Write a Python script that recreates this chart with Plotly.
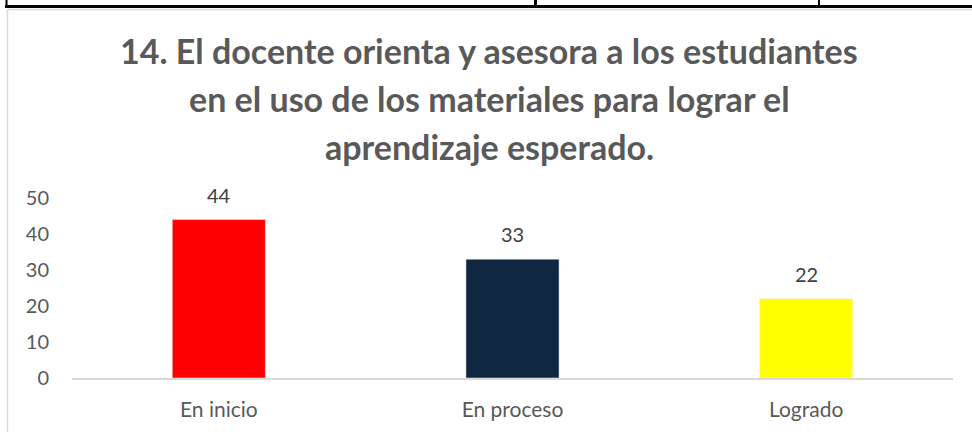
import plotly.graph_objects as go

# data
categories = ["En inicio", "En proceso", "Logrado"]
values = [44, 33, 22]
bar_colors = ["#FF0000", "#0F2741", "#FFFF00"]
title_lines = [
    "14. El docente orienta y asesora a los estudiantes",
    "en el uso de los materiales para lograr el",
    "aprendizaje esperado.",
]

W, H = 972, 432
L, R, T, B = 72, 19, 198, 54
pw, ph = W - L - R, H - T - B


def px_x(x):
    return (x - L) / pw


def px_y(y):
    return (H - B - y) / ph


fig = go.Figure(go.Bar(
    x=categories, y=values,
    marker_color=bar_colors,
    width=0.317,
))

# value labels sit well above the bars
for c, v in zip(categories, values):
    fig.add_annotation(
        x=c, y=v, text=str(v), showarrow=False, yshift=25,
        xanchor="center", yanchor="middle",
        font=dict(size=20, color="#404040", family="Lato"),
    )

# title, one annotation per line so the line spacing matches
for i, line in enumerate(title_lines):
    fig.add_annotation(
        text="<b>" + line + "</b>", x=px_x(489), y=px_y(50 + 48 * i),
        xref="paper", yref="paper", showarrow=False,
        xanchor="center", yanchor="middle",
        font=dict(size=34, color="#595959", family="Lato"),
    )

# table lines above the chart and the chart's light border
shapes = [
    dict(x0=px_x(5), x1=px_x(972), y0=px_y(6.5), y1=px_y(6.5), line=dict(color="black", width=3)),
    dict(x0=px_x(6.5), x1=px_x(6.5), y0=px_y(0), y1=px_y(6.5), line=dict(color="black", width=2)),
    dict(x0=px_x(535.5), x1=px_x(535.5), y0=px_y(0), y1=px_y(6.5), line=dict(color="black", width=3)),
    dict(x0=px_x(819), x1=px_x(819), y0=px_y(0), y1=px_y(6.5), line=dict(color="black", width=2)),
    dict(x0=px_x(7.5), x1=px_x(972), y0=px_y(9.5), y1=px_y(9.5), line=dict(color="#D9D9D9", width=1.5)),
    dict(x0=px_x(7.5), x1=px_x(7.5), y0=px_y(9.5), y1=px_y(432), line=dict(color="#D9D9D9", width=1.5)),
]
for s in shapes:
    fig.add_shape(type="line", xref="paper", yref="paper", layer="above", **s)

fig.update_layout(
    width=W, height=H,
    margin=dict(l=L, r=R, t=T, b=B),
    paper_bgcolor="white", plot_bgcolor="white",
    showlegend=False,
    font=dict(family="Lato", size=20, color="#595959"),
    xaxis=dict(showline=True, linecolor="#D9D9D9", linewidth=1.5,
               showgrid=False, ticks="", ticklabelstandoff=12,
               tickfont=dict(size=21, color="#595959")),
    yaxis=dict(range=[0, 50], dtick=10, showgrid=False, zeroline=False,
               showline=False, ticks="", ticklabelstandoff=22,
               tickfont=dict(size=20, color="#595959")),
)

# drop the page's default body margin so the figure sits at the window corner
fig.write_html("out.html", config={"displayModeBar": False},
               post_script="document.body.style.margin='0';")
